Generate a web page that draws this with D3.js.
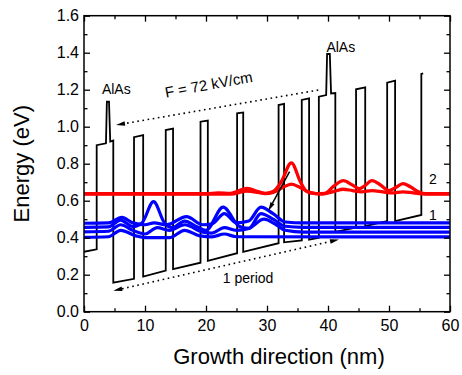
<!DOCTYPE html>
<html>
<head>
<meta charset="utf-8">
<script src="https://cdn.jsdelivr.net/npm/d3@7"></script>
<style>
  body { margin: 0; background: #fff; }
  svg { display: block; }
  text { font-family: "Liberation Sans", Arial, Helvetica, sans-serif; }
</style>
</head>
<body>
<svg id="chart" width="462" height="375"></svg>
<script>
// axis ticks
const xTicks = [0, 10, 20, 30, 40, 50, 60]
const xMinor = [5, 15, 25, 35, 45, 55]
const yTicks = [0, 0.2, 0.4, 0.6, 0.8, 1.0, 1.2, 1.4, 1.6]
const yMinor = [0.1, 0.3, 0.5, 0.7, 0.9, 1.1, 1.3, 1.5]

// conduction band profile [nm, eV]
const profile = [
  [0, 0.324], [2.08, 0.337], [2.08, 0.90], [3.6, 0.91], [3.75, 1.135], [4.1, 1.135],
  [4.3, 0.92], [4.8, 0.925], [4.8, 0.157], [8.2, 0.178], [8.2, 0.943], [9.7, 0.955],
  [9.7, 0.19], [13.4, 0.222], [13.4, 0.982], [14.6, 0.99], [14.6, 0.23], [19.1, 0.265],
  [19.1, 1.027], [20.3, 1.033], [20.3, 0.275], [25.1, 0.316], [25.1, 1.072], [26.1, 1.077],
  [26.1, 0.324], [31.9, 0.37], [31.9, 1.117], [32.8, 1.123], [32.8, 0.375], [35.7, 0.385],
  [35.7, 1.145], [36.9, 1.153], [36.9, 0.39], [38.5, 0.40], [38.5, 1.162], [39.7, 1.171],
  [39.85, 1.393], [40.3, 1.393], [40.5, 1.18], [41.2, 1.182], [41.2, 0.432], [44.6, 0.455],
  [44.6, 1.202], [46.1, 1.213], [46.1, 0.462], [49.7, 0.49], [49.7, 1.238], [51.0, 1.249],
  [51.0, 0.49], [55.3, 0.523], [55.3, 1.285], [55.6, 1.288]
]

// miniband 1 states (blue)
const state1a = [[0, 0.478], [4, 0.48], [6.2, 0.51], [8, 0.48], [10, 0.47], [11.5, 0.48], [13.5, 0.47],
  [16.8, 0.514], [19.5, 0.47], [21, 0.475], [23, 0.53], [25, 0.48], [27, 0.49], [29, 0.565],
  [31, 0.53], [33, 0.485], [36, 0.48], [60, 0.48]]
const state1b = [[0, 0.456], [4, 0.458], [6, 0.495], [8, 0.46], [9.5, 0.48], [11.4, 0.595], [13.2, 0.48],
  [14.5, 0.455], [16.5, 0.49], [18.5, 0.46], [20, 0.44], [22.8, 0.565], [25.5, 0.46], [27, 0.45],
  [29, 0.53], [31, 0.5], [33, 0.462], [36, 0.456], [60, 0.456]]
const state1c = [[0, 0.432], [4, 0.435], [6, 0.47], [8, 0.44], [10, 0.42], [12, 0.455], [14, 0.44],
  [16.5, 0.47], [19.5, 0.43], [21, 0.425], [23, 0.455], [25, 0.44], [27, 0.45], [29.5, 0.5],
  [31.5, 0.47], [33, 0.44], [36, 0.43], [60, 0.43]]
const state1d = [[0, 0.402], [4, 0.405], [6, 0.44], [8.5, 0.41], [10, 0.4], [14, 0.4], [16.5, 0.44],
  [19, 0.41], [21, 0.405], [23, 0.42], [25, 0.405], [60, 0.404]]

// miniband 2 states (red)
const state2a = [[0, 0.638], [20, 0.638], [22, 0.642], [24, 0.64], [26.7, 0.667], [28, 0.655],
  [29.7, 0.64], [31, 0.65], [32.3, 0.7], [34, 0.805], [35.5, 0.7], [36.5, 0.65], [38, 0.638],
  [39.5, 0.64], [41, 0.68], [42.5, 0.708], [44, 0.685], [45.2, 0.665], [46, 0.68], [47.2, 0.708],
  [48.6, 0.685], [50, 0.655], [51, 0.67], [52.3, 0.692], [53.5, 0.675], [55, 0.645], [56, 0.638], [60, 0.638]]
const state2b = [[0, 0.636], [24, 0.636], [26.7, 0.652], [28.5, 0.645], [29.7, 0.638], [31, 0.645],
  [32.5, 0.67], [34, 0.69], [35.5, 0.67], [37, 0.645], [39, 0.636], [41, 0.65], [42.5, 0.662],
  [44, 0.655], [45.5, 0.648], [47.2, 0.655], [49, 0.648], [50.5, 0.642], [52.3, 0.648],
  [54, 0.642], [56, 0.636], [60, 0.636]]

const blueStates = [state1a, state1b, state1c, state1d]
const redStates = [state2a, state2b]

const x = d3.scaleLinear().domain([0, 60]).range([84, 450])
const y = d3.scaleLinear().domain([0, 1.6]).range([311.7, 15.7])
const svg = d3.select('#chart')

svg.append('defs').append('clipPath').attr('id', 'plot')
  .append('rect')
  .attr('x', x(0)).attr('y', y(1.6))
  .attr('width', x(60) - x(0)).attr('height', y(0) - y(1.6))

const plot = svg.append('g').attr('clip-path', 'url(#plot)')

const straight = d3.line().x(d => x(d[0])).y(d => y(d[1]))
const smooth = d3.line().x(d => x(d[0])).y(d => y(d[1])).curve(d3.curveMonotoneX)

plot.append('path')
  .attr('d', straight(profile))
  .attr('fill', 'none')
  .attr('stroke', '#000')
  .attr('stroke-width', 1.8)
  .attr('stroke-linejoin', 'miter')

plot.selectAll('.red')
  .data(redStates)
  .enter().append('path')
  .attr('class', 'red')
  .attr('d', d => smooth(d))
  .attr('fill', 'none')
  .attr('stroke', '#ff0000')
  .attr('stroke-width', 3.3)

plot.selectAll('.blue')
  .data(blueStates)
  .enter().append('path')
  .attr('class', 'blue')
  .attr('d', d => smooth(d))
  .attr('fill', 'none')
  .attr('stroke', '#0000ff')
  .attr('stroke-width', 3.2)

// arrows
function head(p, q, len, wid) {
  const dx = q[0] - p[0], dy = q[1] - p[1], L = Math.hypot(dx, dy)
  const ux = dx / L, uy = dy / L
  const bx = q[0] - ux * len, by = q[1] - uy * len
  return {
    base: [bx, by],
    pts: [[q[0], q[1]], [bx - uy * wid / 2, by + ux * wid / 2], [bx + uy * wid / 2, by - ux * wid / 2]]
  }
}

function arrow(from, to, opts) {
  const p = [x(from[0]), y(from[1])], q = [x(to[0]), y(to[1])]
  const h2 = head(p, q, 9, 4.5)
  let start = p
  if (opts.both) {
    const h1 = head(q, p, 9, 4.5)
    start = h1.base
    svg.append('polygon').attr('points', h1.pts.join(' ')).attr('fill', '#000')
  }
  svg.append('line')
    .attr('x1', start[0]).attr('y1', start[1])
    .attr('x2', h2.base[0]).attr('y2', h2.base[1])
    .attr('stroke', '#000')
    .attr('stroke-width', opts.dotted ? 1.6 : 1.5)
    .attr('stroke-dasharray', opts.dotted ? '1.6,3.6' : null)
  svg.append('polygon').attr('points', h2.pts.join(' ')).attr('fill', '#000')
}

arrow([38.4, 1.198], [5.25, 1.009], { dotted: true })
arrow([4.8, 0.113], [41.8, 0.39], { dotted: true, both: true })
arrow([33.7, 0.757], [30.2, 0.544], { dotted: false })

// annotations
const note = (tx, ty, s, size) => svg.append('text')
  .attr('x', tx).attr('y', ty)
  .attr('text-anchor', 'middle')
  .attr('font-size', size)
  .attr('fill', '#000')
  .text(s)

note(x(5.3), y(1.176), 'AlAs', 14)
note(x(42.1), y(1.404), 'AlAs', 14)
note(x(26.9), y(0.155), '1 period', 14)
note(x(57.2), y(0.69), '2', 14)
note(x(57.2), y(0.495), '1', 14)
note(0, 0, 'F = 72 kV/cm', 15)
  .attr('transform', `translate(${x(20.6)},${y(1.2)}) rotate(-10.4)`)
  .attr('x', null).attr('y', null)

// axes
function styleAxis(g) {
  g.select('.domain').remove()
  g.selectAll('.tick line').attr('stroke', '#000').attr('stroke-width', 1.3)
  g.selectAll('.tick text').attr('fill', '#000')
  g.attr('font-size', 16).attr('font-family', null)
}

svg.append('g').attr('transform', `translate(0,${y(0)})`)
  .call(d3.axisBottom(x).tickValues(xTicks).tickSize(-6).tickPadding(8).tickFormat(d3.format('d')))
  .call(styleAxis)
svg.append('g').attr('transform', `translate(0,${y(0)})`)
  .call(d3.axisBottom(x).tickValues(xMinor).tickSize(-3.5).tickFormat(''))
  .call(styleAxis)
svg.append('g').attr('transform', `translate(0,${y(1.6)})`)
  .call(d3.axisTop(x).tickValues(xTicks).tickSize(-6).tickFormat(''))
  .call(styleAxis)
svg.append('g').attr('transform', `translate(0,${y(1.6)})`)
  .call(d3.axisTop(x).tickValues(xMinor).tickSize(-3.5).tickFormat(''))
  .call(styleAxis)

svg.append('g').attr('transform', `translate(${x(0)},0)`)
  .call(d3.axisLeft(y).tickValues(yTicks).tickSize(-6).tickPadding(5).tickFormat(d3.format('.1f')))
  .call(styleAxis)
svg.append('g').attr('transform', `translate(${x(0)},0)`)
  .call(d3.axisLeft(y).tickValues(yMinor).tickSize(-3.5).tickFormat(''))
  .call(styleAxis)
svg.append('g').attr('transform', `translate(${x(60)},0)`)
  .call(d3.axisRight(y).tickValues(yTicks).tickSize(-6).tickFormat(''))
  .call(styleAxis)
svg.append('g').attr('transform', `translate(${x(60)},0)`)
  .call(d3.axisRight(y).tickValues(yMinor).tickSize(-3.5).tickFormat(''))
  .call(styleAxis)

svg.append('rect')
  .attr('x', x(0)).attr('y', y(1.6))
  .attr('width', x(60) - x(0)).attr('height', y(0) - y(1.6))
  .attr('fill', 'none')
  .attr('stroke', '#000')
  .attr('stroke-width', 1.5)

svg.append('text')
  .attr('x', 279).attr('y', 364)
  .attr('text-anchor', 'middle')
  .attr('font-size', 22)
  .text('Growth direction (nm)')

svg.append('text')
  .attr('transform', `translate(29,${(y(0) + y(1.6)) / 2}) rotate(-90)`)
  .attr('text-anchor', 'middle')
  .attr('font-size', 22)
  .text('Energy (eV)')
</script>
</body>
</html>
